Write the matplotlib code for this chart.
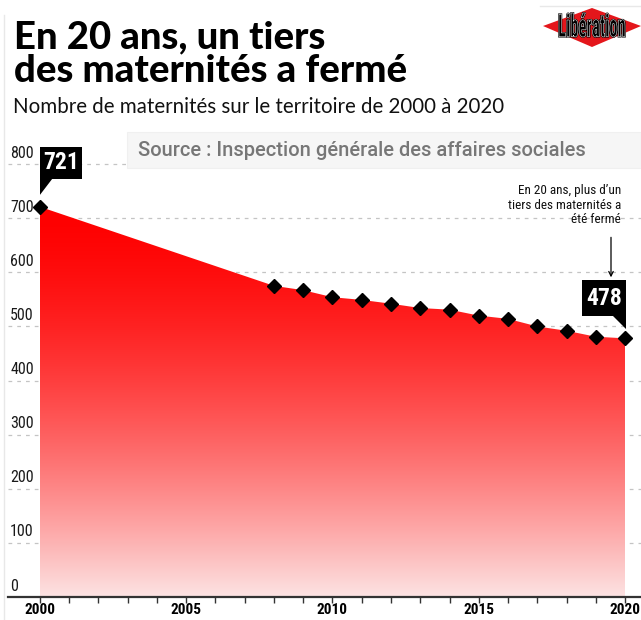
import numpy as np
import matplotlib
matplotlib.use("Agg")
import matplotlib.pyplot as plt
import matplotlib.transforms as mtransforms
import matplotlib.patheffects as pe
from matplotlib import font_manager as fm
from matplotlib.patches import Polygon, Rectangle, PathPatch
from matplotlib.textpath import TextPath
from matplotlib.ticker import FixedLocator

# données : nombre de maternités
years = [2000, 2008, 2009, 2010, 2011, 2012, 2013, 2014, 2015, 2016, 2017, 2018, 2019, 2020]
maternites = [721, 575, 567, 554, 549, 542, 534, 531, 520, 514, 500, 492, 481, 478]
y_ticks = [0, 100, 200, 300, 400, 500, 600, 700, 800]
x_labels = [2000, 2005, 2010, 2015, 2020]

title_lines = ["En 20 ans, un tiers", "des maternités a fermé"]
subtitle = "Nombre de maternités sur le territoire de 2000 à 2020"
source = "Source : Inspection générale des affaires sociales"
note = "En 20 ans, plus d’un\ntiers des maternités a\nété fermé"

W, H = 641, 620
names = {f.name for f in fm.fontManager.ttflist}


def pick(*cands):
    return next((c for c in cands if c in names), "DejaVu Sans")


F_TITLE = pick("Lato", "Liberation Sans")
F_SUB = pick("Lato", "Liberation Sans")
F_SRC = pick("Roboto", "Liberation Sans")
F_COND = pick("Roboto Condensed", "Liberation Sans Narrow", "Liberation Sans")


def fy(y):
    # pixel depuis le haut -> fraction de figure
    return 1 - y / H


fig = plt.figure(figsize=(W / 100, H / 100), dpi=100)

# axes : x de 8 px à 641 px, y de 130 px à 597 px
ax = fig.add_axes([8 / W, 1 - 597 / H, 633 / W, 467 / H])
ax.set_xlim(1998.906, 2020.547)
ax.set_ylim(0, 863)

# remplissage en dégradé
vmax = max(maternites)
poly = ax.fill_between(years, maternites, 0, facecolor="none", edgecolor="none")
t = np.linspace(0, 1, 256) ** 1.6  # 0 en haut, 1 en bas
grad = np.ones((256, 1, 3))
grad[:, 0, 1] = t[::-1] * 0.89
grad[:, 0, 2] = t[::-1] * 0.89
grad[:, 0, 0] = 1 - t[::-1] * 0.01
im = ax.imshow(grad, origin="lower", extent=[years[0], years[-1], 0, vmax],
               aspect="auto", zorder=2, interpolation="bilinear")
im.set_clip_path(poly.get_paths()[0], transform=ax.transData)

ax.plot(years, maternites, ls="none", marker="D", ms=7.5, color="black", zorder=5)

# grille
for v in y_ticks[1:]:
    ax.axhline(v, color="#c4c4c4", lw=0.9, ls=(0, (3, 4)), zorder=1)
for v in y_ticks:
    ax.annotate(str(v), xy=(0, v), xycoords=ax.get_yaxis_transform(),
                xytext=(1.5, 2.5), textcoords="offset points", ha="left", va="bottom",
                fontsize=11.5, family=F_COND, color="#1a1a1a")

for s in ["top", "right", "left"]:
    ax.spines[s].set_visible(False)
ax.spines["bottom"].set_color("#333333")
ax.spines["bottom"].set_linewidth(1.6)
ax.set_yticks([])
ax.xaxis.set_major_locator(FixedLocator(x_labels))
ax.xaxis.set_minor_locator(FixedLocator(range(years[0], years[-1] + 1)))
ax.tick_params(axis="x", which="both", direction="out", length=4, width=1,
               color="#333333")
ax.tick_params(axis="x", which="major", pad=0)
ax.set_xticklabels([str(v) for v in x_labels], fontsize=11, fontweight="bold",
                   family=F_COND)


def callout(xd, yd, verts, box, label):
    tr = mtransforms.ScaledTranslation(xd, yd, ax.transData)
    ax.add_patch(Polygon(verts, closed=True, facecolor="black", edgecolor="none",
                         transform=tr, zorder=6, clip_on=False))
    x0, y0, x1, y1 = box
    ax.add_patch(Rectangle((x0, y0), x1 - x0, y1 - y0, facecolor="black",
                           edgecolor="none", transform=tr, zorder=6, clip_on=False))
    ax.text((x0 + x1) / 2, (y0 + y1) / 2, label, transform=tr, ha="center",
            va="center", color="white", fontsize=17, fontweight="bold",
            family=F_COND, zorder=7)


callout(years[0], maternites[0], [(0, 29), (13, 29), (0, 12)], (0, 28, 42, 60),
        str(maternites[0]))
callout(years[-1], maternites[-1], [(-13, 23), (1, 23), (1, 9)], (-43, 22, 1, 58),
        str(maternites[-1]))

# note et flèche
ax.annotate(note, xy=(years[-1], maternites[-1]), xytext=(-3, 111),
            textcoords="offset points", ha="right", va="top", fontsize=9.5,
            family=F_COND, color="#111111", linespacing=1.15)
tr_last = mtransforms.ScaledTranslation(years[-1], maternites[-1], ax.transData)
ax.annotate("", xy=(-14, 61), xycoords=tr_last, xytext=(-14, 101), textcoords=tr_last,
            arrowprops=dict(arrowstyle="->", color="black", lw=0.9,
                            shrinkA=0, shrinkB=0, mutation_scale=8))

# titre
fig.text(14 / W, fy(48), title_lines[0], fontsize=27.5, fontweight="black",
         family=F_TITLE, va="baseline", color="black")
fig.text(14 / W, fy(82), title_lines[1], fontsize=27.5, fontweight="black",
         family=F_TITLE, va="baseline", color="black")
fig.text(13 / W, fy(113), subtitle, fontsize=14.8, fontweight="normal",
         family=F_SUB, va="baseline", color="#111111")

# source
fig.add_artist(Rectangle((127 / W, fy(168)), (W - 127) / W, 36 / H,
                         transform=fig.transFigure, facecolor="#f6f6f6",
                         edgecolor="#f0f0f0", lw=0.8, zorder=8))
fig.text(138 / W, fy(150), source, fontsize=14.5, fontweight="medium",
         family=F_SRC, va="center", color="#777777", zorder=9)

# bordures discrètes
fig.add_artist(plt.Line2D([4 / W, 4 / W], [0, fy(15)], transform=fig.transFigure,
                          color="#e8e8e8", lw=1))
fig.add_artist(plt.Line2D([540 / W, 1], [fy(6), fy(6)], transform=fig.transFigure,
                          color="#e8e8e8", lw=1))

# logo Libération
px2fig = mtransforms.Affine2D().scale(1 / W, 1 / H) + fig.transFigure
fig.add_artist(Polygon([(543, H - 26), (592, H - 8), (641, H - 26), (592, H - 47)],
                       closed=True, facecolor="#e4161b", edgecolor="none",
                       transform=px2fig, zorder=3))
tp = TextPath((0, 0), "Libération",
              prop=fm.FontProperties(family=F_COND, weight="bold"), size=10)
bb = tp.get_extents()
logo_tr = (mtransforms.Affine2D().translate(-bb.x0, -bb.y0)
           .scale(66 / bb.width, 24 / bb.height).translate(559, H - 37))
logo = PathPatch(logo_tr.transform_path(tp), facecolor="black", edgecolor="white",
                 lw=0.35, transform=px2fig, zorder=4)
logo.set_path_effects([pe.Stroke(linewidth=1.2, foreground="black"), pe.Normal()])
fig.add_artist(logo)

fig.savefig("out.png", dpi=100)
